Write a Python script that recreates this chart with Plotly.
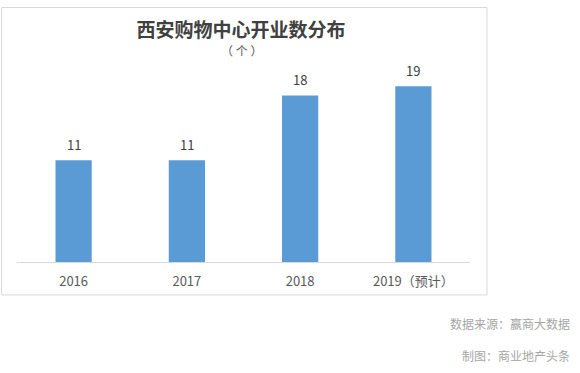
import plotly.graph_objects as go

categories = ["2016", "2017", "2018", "2019（预计）"]
values = [11, 11, 18, 19]
title_text = "西安购物中心开业数分布"
unit_text = "（ 个 ）"
notes = ["数据来源：赢商大数据", "制图：商业地产头条"]

W, H = 580, 373
PL, PR, PT, PB = 17, 470, 76.6, 262  # plot area in window px
L, T = PL, PT
R = W - PR
B = H - PB
pw = W - L - R
ph = H - T - B

def px_x(x):
    return (x - PL) / pw

def px_y(y):
    return (PB - y) / ph

CJK = "Noto Sans CJK SC, Microsoft YaHei, sans-serif"

fig = go.Figure(go.Bar(
    x=categories, y=values,
    marker=dict(color="#5B9BD5", line=dict(width=0)),
    width=0.32,
    cliponaxis=False,
    hoverinfo="skip",
))

# value labels: category axis positions are indices 0..n-1
for i, v in enumerate(values):
    fig.add_annotation(x=i, y=v, text=str(v), showarrow=False, yanchor="middle",
                       yshift=16, font=dict(family=CJK, size=13, color="#404040"))

fig.update_layout(
    width=W, height=H,
    margin=dict(l=L, r=R, t=T, b=B, autoexpand=False),
    paper_bgcolor="white", plot_bgcolor="white",
    showlegend=False,
    title=dict(text="<b>" + title_text + "</b>", x=241 / W, xanchor="center",
               y=1 - 30 / H, yanchor="middle", xref="container", yref="container",
               font=dict(family=CJK, size=19, color="#404040")),
    xaxis=dict(type="category", categoryorder="array", categoryarray=categories,
               range=[-0.5, len(categories) - 0.5],
               showline=True, linecolor="#D9D9D9", linewidth=1, showgrid=False,
               ticks="", ticklabelstandoff=7, fixedrange=True,
               tickfont=dict(family=CJK, size=13, color="#595959")),
    yaxis=dict(visible=False, range=[0, 20], fixedrange=True),
    bargap=0.68,
)

fig.add_shape(type="rect", xref="paper", yref="paper",
              x0=px_x(1.5), x1=px_x(487), y0=px_y(295), y1=px_y(7),
              line=dict(color="#D9D9D9", width=1), fillcolor="rgba(0,0,0,0)", layer="below")

fig.add_annotation(text=unit_text, xref="paper", yref="paper", x=px_x(241), y=px_y(50),
                   xanchor="center", yanchor="middle", showarrow=False,
                   font=dict(family=CJK, size=12, color="#595959"))

for note, yy in zip(notes, [324, 356]):
    fig.add_annotation(text=note, xref="paper", yref="paper", x=px_x(572), y=px_y(yy),
                       xanchor="right", yanchor="middle", showarrow=False,
                       font=dict(family=CJK, size=12, color="#A6A6A6"))

fig.write_html("out.html", config={"displayModeBar": False},
               post_script="document.body.style.margin='0px';document.body.style.overflow='hidden';")
